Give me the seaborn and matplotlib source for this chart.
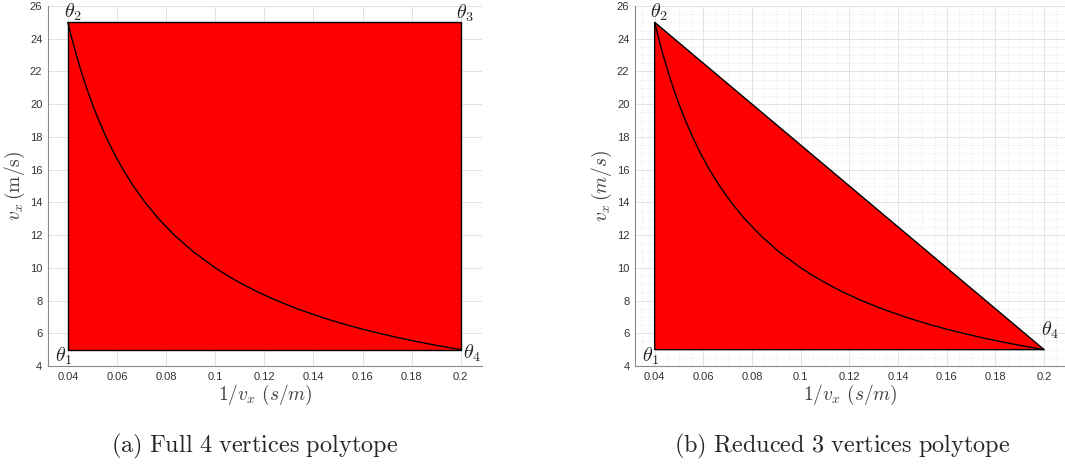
import matplotlib
matplotlib.use("Agg")
import matplotlib.pyplot as plt
from matplotlib.ticker import MultipleLocator
import numpy as np
import pandas as pd
import seaborn as sns

# vertices of the polytopes (x = 1/v_x, y = v_x)
full_x = [0.04, 0.04, 0.2, 0.2]
full_y = [5, 25, 25, 5]
reduced_x = [0.04, 0.04, 0.2]
reduced_y = [5, 25, 5]

# speeds along the curve v_x -> (1/v_x, v_x)
speeds = [25, 24, 23, 22, 21, 20, 19, 18, 17, 16, 15, 14, 13, 12, 11, 10,
          9.5, 9, 8.5, 8, 7.5, 7, 6.75, 6.5, 6.25, 6, 5.75, 5.5, 5.25, 5]

# vertex labels and where they sit
full_labels = [r"$\theta_1$", r"$\theta_2$", r"$\theta_3$", r"$\theta_4$"]
full_label_pos = [(0.0384, 4.6), (0.0422, 25.6), (0.2016, 25.57), (0.2045, 4.75)]
reduced_labels = [r"$\theta_1$", r"$\theta_2$", r"$\theta_4$"]
reduced_label_pos = [(0.0382, 4.6), (0.0416, 25.6), (0.2025, 6.2)]

x_ticks = [0.04, 0.06, 0.08, 0.1, 0.12, 0.14, 0.16, 0.18, 0.2]
x_ticklabels = ["0.04", "0.06", "0.08", "0.1", "0.12", "0.14", "0.16", "0.18", "0.2"]
y_ticks = list(range(4, 27, 2))

captions = ["(a) Full 4 vertices polytope", "(b) Reduced 3 vertices polytope"]

sns.set_style("white")
plt.rcParams["mathtext.fontset"] = "cm"
plt.rcParams["font.family"] = ["Liberation Sans", "DejaVu Sans"]

curve = pd.DataFrame({"inv": [1.0 / s for s in speeds], "v": speeds})

fig = plt.figure(figsize=(10.65, 4.67), dpi=100)
ax1 = fig.add_axes([0.045, 0.2163, 0.4075, 0.7709])
ax2 = fig.add_axes([0.5962, 0.2163, 0.4038, 0.7709])


def style_axis(ax, minor):
    ax.set_xlim(0.0319, 0.2086)
    ax.set_ylim(4, 26)
    ax.set_xticks(x_ticks)
    ax.set_xticklabels(x_ticklabels)
    ax.set_yticks(y_ticks)
    ax.tick_params(direction="in", length=3, width=0.6, colors="#888888",
                   labelcolor="#333333", labelsize=8, pad=4)
    for s in ["top", "right"]:
        ax.spines[s].set_visible(False)
    for s in ["left", "bottom"]:
        ax.spines[s].set_color("#8c8c8c")
        ax.spines[s].set_linewidth(0.8)
    ax.grid(True, which="major", color="#e3e3e3", linewidth=0.7)
    if minor:
        ax.xaxis.set_minor_locator(MultipleLocator(0.005))
        ax.yaxis.set_minor_locator(MultipleLocator(0.5))
        ax.tick_params(which="minor", length=0)
        ax.grid(True, which="minor", color="#e0e0e0", linewidth=0.6,
                linestyle=(0, (1, 2)))
    ax.set_axisbelow(True)
    ax.set_xlabel(r"$1/v_x\ (s/m)$", fontsize=14, color="#404040", labelpad=1)


# (a) full polytope
ax1.fill(full_x, full_y, facecolor="#ff0000", edgecolor="black", linewidth=1.0, zorder=2)
sns.lineplot(data=curve, x="inv", y="v", sort=False, color="black", linewidth=1.0, ax=ax1, zorder=3)
style_axis(ax1, minor=False)
ax1.set_ylabel(r"$v_x\,\mathrm{(m/s)}$", fontsize=14, color="#404040", labelpad=2)
for lab, (x, y) in zip(full_labels, full_label_pos):
    ax1.text(x, y, lab, fontsize=14.5, ha="center", va="center", zorder=4)

# (b) reduced polytope
ax2.fill(reduced_x, reduced_y, facecolor="#ff0000", edgecolor="black", linewidth=1.0, zorder=2)
sns.lineplot(data=curve, x="inv", y="v", sort=False, color="black", linewidth=1.0, ax=ax2, zorder=3)
style_axis(ax2, minor=True)
ax2.set_ylabel(r"$v_x\,(m/s)$", fontsize=14, color="#404040", labelpad=2)
for lab, (x, y) in zip(reduced_labels, reduced_label_pos):
    ax2.text(x, y, lab, fontsize=14.5, ha="center", va="center", zorder=4)

fig.text(0.2394, 0.045, r"$\mathrm{" + captions[0].replace(" ", r"\ ") + "}$",
         fontsize=17.5, ha="center", va="center")
fig.text(0.7906, 0.045, r"$\mathrm{" + captions[1].replace(" ", r"\ ") + "}$",
         fontsize=17.5, ha="center", va="center")

fig.savefig("out.png", dpi=100)
